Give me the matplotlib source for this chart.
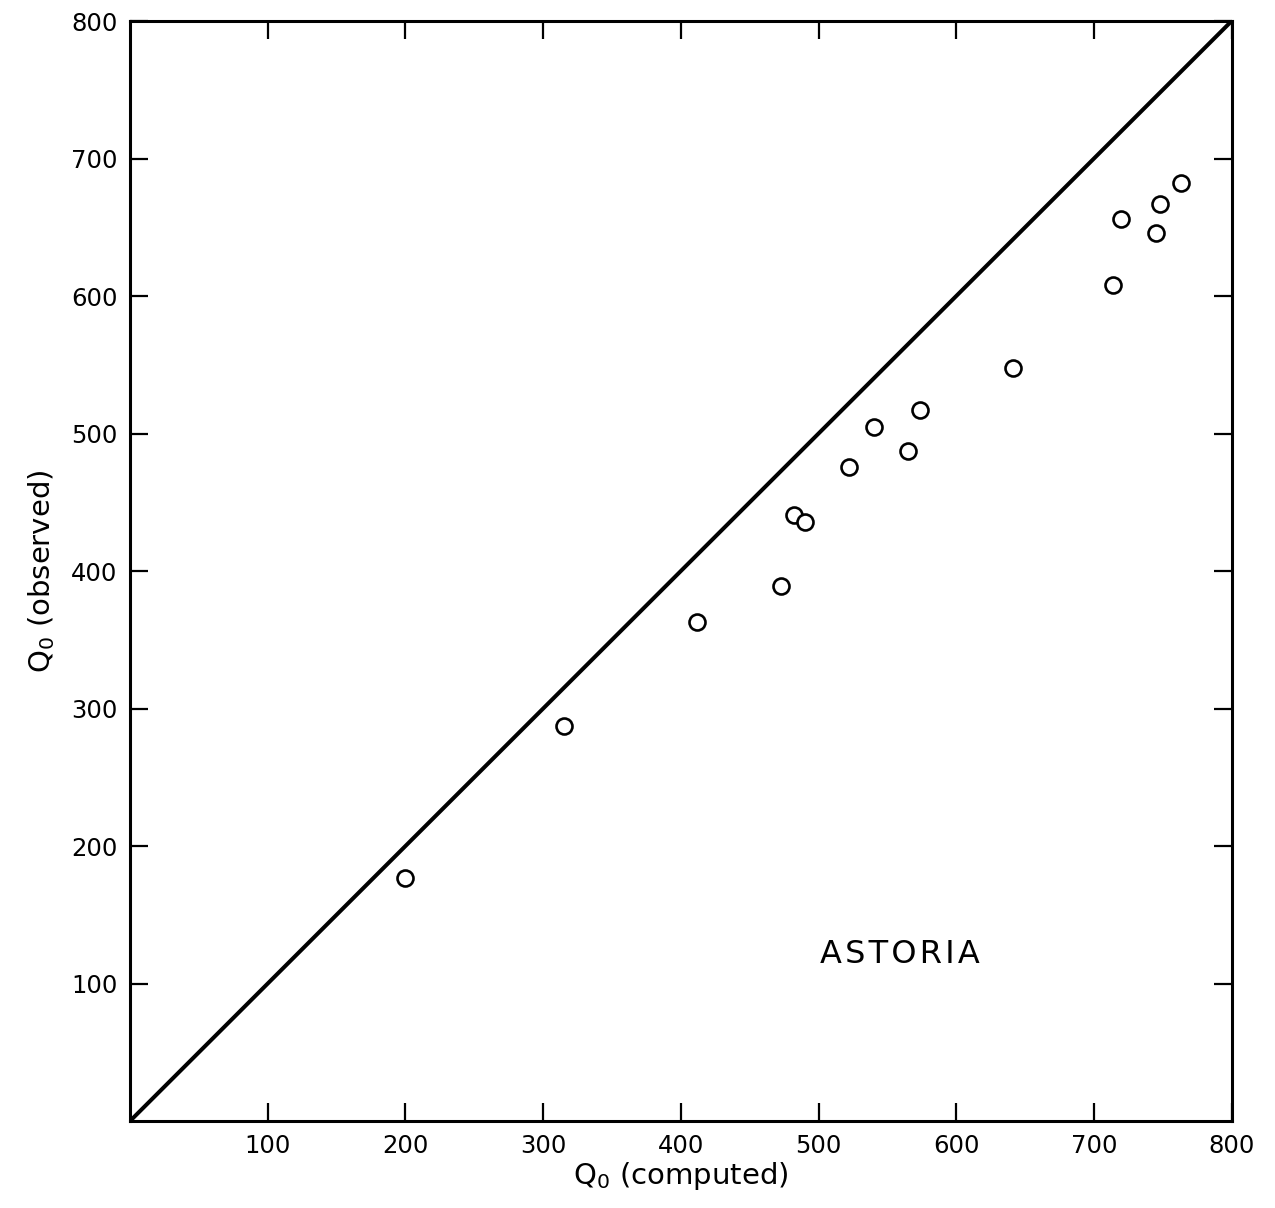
import matplotlib
matplotlib.use("Agg")
import matplotlib.pyplot as plt

# Data
q_computed = [200, 315, 412, 473, 482, 490, 522, 540, 565, 574, 641, 714, 720, 745, 748, 763]
q_observed = [177, 287, 363, 389, 441, 436, 476, 505, 487, 517, 548, 608, 656, 646, 667, 682]
ticks = [100, 200, 300, 400, 500, 600, 700, 800]
tick_labels = ["100", "200", "300", "400", "500", "600", "700", "800"]
line_x = [0, 800]
line_y = [0, 800]

plt.rcParams['font.family'] = ['DejaVu Sans']

fig = plt.figure(figsize=(12.75, 12.08), dpi=100)
ax = fig.add_axes([0.102, 0.072, 0.864, 0.9106])

ax.plot(line_x, line_y, color='black', lw=2.9, solid_capstyle='butt')
ax.plot(q_computed, q_observed, linestyle='none', marker='o', ms=11.5,
        mfc='white', mec='black', mew=1.9)

ax.set_xlim(0, 800)
ax.set_ylim(0, 800)
ax.set_xticks(ticks)
ax.set_xticklabels(tick_labels)
ax.set_yticks(ticks)
ax.set_yticklabels(tick_labels)
ax.tick_params(direction='in', length=13, width=1.6, top=True, right=True,
               labelsize=17.5, pad=9)
for s in ax.spines.values():
    s.set_linewidth(2.2)

ax.set_xlabel(r"Q$_\mathregular{0}$ (computed)", fontsize=21, labelpad=2)
ax.set_ylabel(r"Q$_\mathregular{0}$ (observed)", fontsize=21, labelpad=10)

ax.text(559, 121, "\u200a".join("ASTORIA"), fontsize=23,
        ha='center', va='center')

fig.savefig("out.png", dpi=100)
